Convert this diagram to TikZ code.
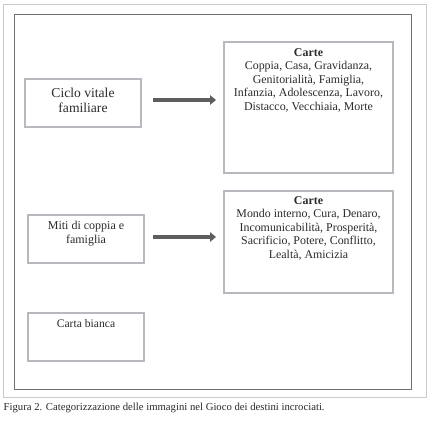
\documentclass[tikz,border=0pt]{standalone}
\usepackage{fontspec}
\setmainfont{Liberation Serif}
\usetikzlibrary{arrows.meta,calc}
\definecolor{boxgray}{HTML}{B8B8BE}
\definecolor{framegray}{HTML}{6E6E6E}
\definecolor{outergray}{HTML}{CACACA}
\definecolor{arrowgray}{HTML}{5E5E5E}
\definecolor{txt}{HTML}{2A2A2A}
\begin{document}
\begin{tikzpicture}[x=1pt,y=-1pt,
  catbox/.style={draw=boxgray,line width=1.6pt,rectangle,inner sep=0pt},
  lbl/.style={text=txt,align=center,inner sep=0pt,font=\fontsize{11.9}{13.6}\selectfont},
  bigarrow/.style={draw=arrowgray,line width=3.6pt,-{Triangle[length=6pt,width=9.5pt]}}
]
\useasboundingbox (0,0) rectangle (429,422);
\draw[outergray,line width=0.9pt] (3,4) rectangle (426,397);
\draw[framegray,line width=0.8pt] (14,14) rectangle (411,389);
% left boxes
\node[catbox,minimum width=116pt,minimum height=48pt] (b1) at (83,103) {};
\node[lbl,font=\fontsize{13.6}{15}\selectfont] (t1) at (83,100.5) {Ciclo vitale\\familiare};
\node[catbox,minimum width=116pt,minimum height=48pt] (b2) at (86,239) {};
\node[lbl,font=\fontsize{12}{14}\selectfont] (t2) at (86,234) {Miti di coppia e\\famiglia};
\node[catbox,minimum width=116pt,minimum height=48pt] (b3) at (86,337) {};
\node[lbl,anchor=north,font=\fontsize{11.6}{14}\selectfont] (t3) at (86,319.5) {Carta bianca};
% right boxes
\node[catbox,minimum width=169pt,minimum height=131pt] (c1) at (308.5,107.5) {};
\node[lbl,anchor=north] (ct1) at (308.5,48) {\textbf{Carte}\\Coppia, Casa, Gravidanza,\\Genitorialità, Famiglia,\\Infanzia, Adolescenza, Lavoro,\\Distacco, Vecchiaia, Morte};
\node[catbox,minimum width=169pt,minimum height=102pt] (c2) at (308.5,242) {};
\node[lbl,anchor=north] (ct2) at (308.5,196) {\textbf{Carte}\\Mondo interno, Cura, Denaro,\\Incomunicabilità, Prosperità,\\Sacrificio, Potere, Conflitto,\\Lealtà, Amicizia};
% arrows
\coordinate (a1s) at (153,100);
\coordinate (a1e) at (216,100);
\coordinate (a2s) at (153,237);
\coordinate (a2e) at (216,237);
\draw[bigarrow] (a1s) -- (a1e);
\draw[bigarrow] (a2s) -- (a2e);
% caption
\node[anchor=west,text=txt,inner sep=0pt,font=\fontsize{10.7}{12}\selectfont] (cap) at (3.5,408) {Figura 2. Categorizzazione delle immagini nel Gioco dei destini incrociati.};
\end{tikzpicture}
\end{document}
